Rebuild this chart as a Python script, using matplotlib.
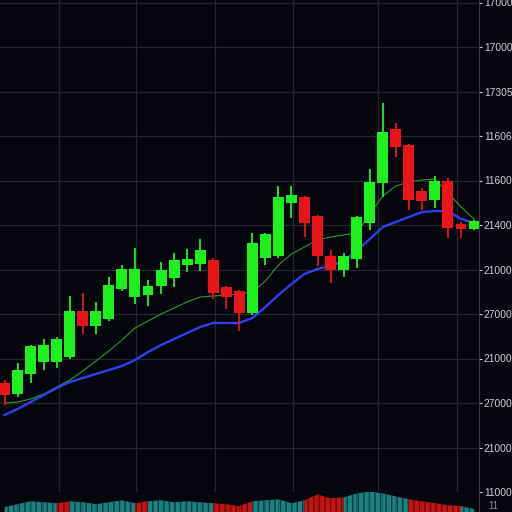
import matplotlib
matplotlib.use("Agg")
import matplotlib.pyplot as plt
import numpy as np

# ---- data (price units = arbitrary chart units) ----
opens  = [109, 98, 118, 130, 130, 135, 181, 166, 173, 203, 195, 197, 206, 214, 227, 228, 232, 205, 201,
          179, 234, 236, 289, 295, 276, 236, 222, 233, 269, 309, 363, 347, 301, 292, 311, 268, 263]
closes = [97, 122, 146, 147, 153, 181, 166, 181, 207, 223, 223, 206, 222, 232, 233, 242, 199, 195, 179,
          249, 258, 295, 297, 269, 236, 222, 236, 275, 310, 360, 345, 292, 291, 311, 264, 263, 271]
highs  = [112, 129, 147, 153, 155, 196, 199, 190, 215, 227, 244, 212, 230, 239, 243, 253, 234, 206, 202,
          259, 259, 306, 306, 296, 277, 242, 239, 276, 323, 389, 369, 348, 304, 316, 314, 270, 272]
lows   = [87, 95, 109, 122, 124, 133, 158, 158, 171, 201, 188, 186, 198, 205, 220, 221, 193, 183, 161,
          177, 227, 234, 274, 255, 226, 209, 215, 224, 262, 295, 335, 282, 282, 284, 254, 254, 262]

ma_fast = [89, 90, 93, 98, 105, 112, 121, 131, 141, 152, 164, 171, 178, 184, 190, 195, 196, 197, 198,
           200, 211, 227, 238, 245, 252, 255, 257, 259, 278, 296, 306, 310, 312, 313, 299, 285, 273]
ma_slow = [77, 83, 90, 97, 104, 110, 114, 118, 122, 126, 132, 140, 147, 153, 159, 165, 169, 169, 169,
           174, 185, 197, 208, 218, 223, 226, 231, 241, 253, 265, 270, 275, 280, 281, 281, 273, 269]

volume = [5, 8, 11, 10, 9, 11, 10, 8, 10, 12, 9, 11, 12, 10, 11, 10, 9, 8, 6,
          11, 12, 13, 9, 12, 18, 14, 15, 19, 21, 19, 16, 13, 11, 9, 7, 6, 3]
vol_up = [1, 1, 1, 1, 0, 1, 1, 1, 1, 1, 0, 1, 1, 1, 1, 1, 0, 0, 0,
          1, 1, 1, 1, 0, 0, 0, 1, 1, 1, 1, 1, 0, 0, 0, 0, 1, 1]

price_tick_labels = ["11000", "21000", "27000", "21000", "27000", "21000",
                     "21400", "11600", "11606", "17305", "17000", "17000"]
vol_tick_label = "11"

# ---- style ----
BG = "#05050e"
GRID = "#262632"
GREEN = "#1ef01e"
RED = "#e8151a"
BLUE = "#2c40ee"
MA_GREEN = "#2a9a2a"
TEAL = "#1b8282"
VRED = "#c41414"
TXT = "#cdcdd2"
FONT = ["Liberation Sans", "DejaVu Sans"]

W = 512
fig = plt.figure(figsize=(5.12, 5.12), dpi=100, facecolor=BG)
right = 479 / W
ax = fig.add_axes([0, 20 / W, right, 492 / W], facecolor=BG)
axv = fig.add_axes([0, 0, right, 20 / W], facecolor=BG)

n = len(opens)
x = np.arange(n)
xlim = (-0.35, 36.38)

# grid
tick_vals = [44.5 * k for k in range(len(price_tick_labels))]
for t in tick_vals:
    ax.axhline(t, color=GRID, lw=0.9, zorder=0)
for gx in [4.18, 10.08, 16.14, 22.12, 28.64, 34.7]:
    ax.axvline(gx, color=GRID, lw=0.9, zorder=0)

# moving averages
ax.plot(x, ma_fast, color=MA_GREEN, lw=0.8, zorder=1)
ax.plot(x, ma_slow, color=BLUE, lw=1.7, zorder=1)

# candles
for i in range(n):
    o, c, h, l = opens[i], closes[i], highs[i], lows[i]
    col = GREEN if c >= o else RED
    ax.vlines(i, l, h, color=col, lw=1.3, zorder=2)
    ax.bar(i, abs(c - o), bottom=min(o, c), width=0.84, color=col, edgecolor=col, lw=0, zorder=3)

ax.set_xlim(*xlim)
ax.set_ylim(0, 492)
ax.set_xticks([])
ax.yaxis.tick_right()
ax.set_yticks(tick_vals)
ax.set_yticklabels(price_tick_labels, family=FONT, fontsize=7.4)
ax.tick_params(axis="y", colors=TXT, length=2.5, width=0.8, pad=1.0, labelcolor=TXT)
for s in ["top", "left", "bottom"]:
    ax.spines[s].set_visible(False)
ax.spines["right"].set_color("#3a3a46")
ax.spines["right"].set_linewidth(0.8)

# volume panel
for i in range(n - 1):
    col = TEAL if vol_up[i] else VRED
    axv.fill_between([i, i + 1], [0, 0], [volume[i], volume[i + 1]], color=col, lw=0,
                     hatch="|||", edgecolor="#0a3a3a" if vol_up[i] else "#6a0a0a")
axv.set_xlim(*xlim)
axv.set_ylim(0, 20.5)
axv.set_xticks([])
axv.yaxis.tick_right()
axv.set_yticks([7])
axv.set_yticklabels([vol_tick_label], family=FONT, fontsize=7)
axv.tick_params(axis="y", length=0, pad=7, labelcolor="#8a8a90")
for s in ["top", "left", "bottom"]:
    axv.spines[s].set_visible(False)
axv.spines["right"].set_color("#3a3a46")
axv.spines["right"].set_linewidth(0.8)

fig.savefig("out.png", dpi=100, facecolor=BG)
